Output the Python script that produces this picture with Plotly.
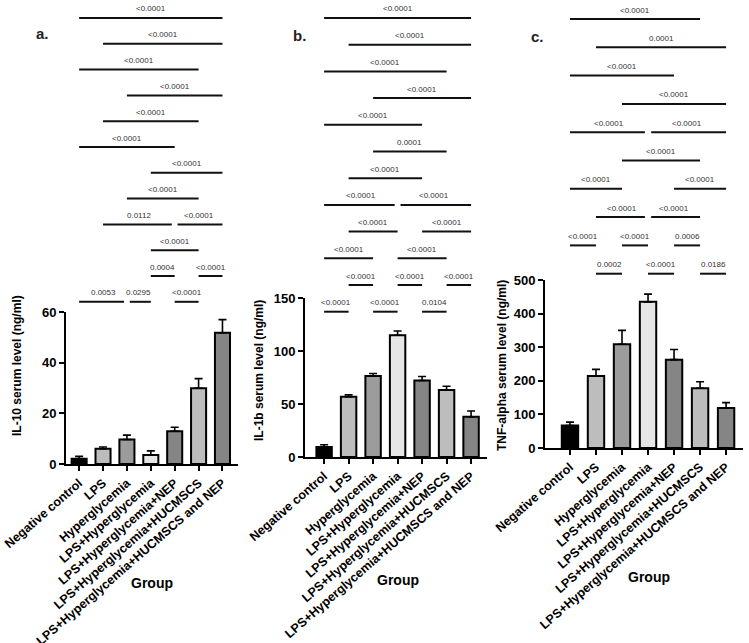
import plotly.graph_objects as go

W, H = 749, 643

groups = ["Negative control", "LPS", "Hyperglycemia", "LPS+Hyperglycemia",
          "LPS+Hyperglycemia+NEP", "LPS+Hyperglycemia+HUCMSCS",
          "LPS+Hyperglycemia+HUCMSCS and NEP"]

il10_mean = [2.1, 6.0, 9.7, 3.6, 12.9, 29.9, 51.8]
il10_err = [0.9, 0.7, 1.7, 1.6, 1.6, 3.8, 5.2]

il1b_mean = [9.5, 56.8, 76.5, 114.8, 72.2, 63.3, 38.0]
il1b_err = [2.0, 1.8, 2.3, 4.0, 3.8, 3.4, 5.4]

tnf_mean = [67, 214, 309, 435, 263, 178, 119]
tnf_err = [10, 20, 41, 23, 30, 19, 16]

bar_colors = ["#000000", "#bdbdbd", "#9c9c9c", "#e6e6e6", "#858585", "#bdbdbd", "#858585"]

# comparisons: (group i, group j, p-value text), listed row by row from the top
comp_a = [
    [(0, 6, "<0.0001")],
    [(1, 6, "<0.0001")],
    [(0, 5, "<0.0001")],
    [(2, 6, "<0.0001")],
    [(1, 5, "<0.0001")],
    [(0, 4, "<0.0001")],
    [(3, 6, "<0.0001")],
    [(2, 5, "<0.0001")],
    [(1, 4, "0.0112"), (4, 6, "<0.0001")],
    [(3, 5, "<0.0001")],
    [(3, 4, "0.0004"), (5, 6, "<0.0001")],
    [(0, 2, "0.0053"), (2, 3, "0.0295"), (4, 5, "<0.0001")],
]
comp_b = [
    [(0, 6, "<0.0001")],
    [(1, 6, "<0.0001")],
    [(0, 5, "<0.0001")],
    [(2, 6, "<0.0001")],
    [(0, 4, "<0.0001")],
    [(2, 5, "0.0001")],
    [(1, 4, "<0.0001")],
    [(0, 3, "<0.0001"), (3, 6, "<0.0001")],
    [(1, 3, "<0.0001"), (4, 6, "<0.0001")],
    [(0, 2, "<0.0001"), (3, 5, "<0.0001")],
    [(1, 2, "<0.0001"), (3, 4, "<0.0001"), (5, 6, "<0.0001")],
    [(0, 1, "<0.0001"), (2, 3, "<0.0001"), (4, 5, "0.0104")],
]
comp_c = [
    [(0, 5, "<0.0001")],
    [(1, 6, "0.0001")],
    [(0, 4, "<0.0001")],
    [(2, 6, "<0.0001")],
    [(0, 3, "<0.0001"), (3, 6, "<0.0001")],
    [(2, 5, "<0.0001")],
    [(0, 2, "<0.0001"), (4, 6, "<0.0001")],
    [(1, 3, "<0.0001"), (3, 5, "<0.0001")],
    [(0, 1, "<0.0001"), (2, 3, "<0.0001"), (4, 5, "0.0006")],
    [(1, 2, "0.0002"), (3, 4, "<0.0001"), (5, 6, "0.0186")],
]

FONT = "Liberation Sans, Arial, sans-serif"

panels = [
    dict(mean=il10_mean, err=il10_err, comps=comp_a, letter="a.", ytitle="IL-10 serum level (ng/ml)",
         xpx=(66, 238), ypx=(464, 312), xr=[-0.55, 6.65], yr=[0, 60], dtick=20,
         row_top=18, row_step=25.8, letter_pos=(42, 34), ytitle_pos=(17, 366), group_pos=(152, 583)),
    dict(mean=il1b_mean, err=il1b_err, comps=comp_b, letter="b.", ytitle="IL-1b serum level (ng/ml)",
         xpx=(305, 487), ypx=(457, 298), xr=[-0.78, 6.65], yr=[0, 150], dtick=50,
         row_top=18, row_step=26.7, letter_pos=(299, 35), ytitle_pos=(259, 371), group_pos=(398, 580)),
    dict(mean=tnf_mean, err=tnf_err, comps=comp_c, letter="c.", ytitle="TNF-alpha serum level (ng/ml)",
         xpx=(545, 743), ypx=(448, 280), xr=[-0.96, 6.65], yr=[0, 500], dtick=100,
         row_top=19, row_step=28.3, letter_pos=(537, 36), ytitle_pos=(502, 366), group_pos=(649, 577)),
]

fig = go.Figure()
shapes, annotations = [], []


def paper_text(xpx, ypx, text, size, angle=0, color="black"):
    return dict(x=xpx / W, y=1 - ypx / H, xref="paper", yref="paper", text=text,
                showarrow=False, xanchor="center", yanchor="middle", textangle=angle,
                font=dict(family=FONT, size=size, color=color))


for k, p in enumerate(panels):
    sfx = "" if k == 0 else str(k + 1)
    xa, ya = "x" + sfx, "y" + sfx
    fig.add_trace(go.Bar(
        x=groups, y=p["mean"], xaxis=xa, yaxis=ya, width=0.63,
        marker=dict(color=bar_colors, line=dict(color="black", width=2)),
        error_y=dict(type="data", symmetric=False, array=p["err"], arrayminus=[0] * 7,
                     color="black", thickness=1.6, width=4),
        showlegend=False, hoverinfo="skip"))
    axis_common = dict(showline=True, linecolor="black", linewidth=2, ticks="outside",
                       ticklen=5, tickwidth=2, tickcolor="black", showgrid=False, zeroline=False,
                       fixedrange=True, automargin=False)
    fig.layout["xaxis" + sfx] = dict(
        domain=[p["xpx"][0] / W, p["xpx"][1] / W], anchor=ya, range=p["xr"],
        type="category", tickangle=-41,
        tickfont=dict(family=FONT, size=12.5, color="black", weight="bold"), **axis_common)
    fig.layout["yaxis" + sfx] = dict(
        domain=[1 - p["ypx"][0] / H, 1 - p["ypx"][1] / H], anchor=xa, range=p["yr"],
        tick0=0, dtick=p["dtick"],
        tickfont=dict(family=FONT, size=13, color="black", weight="bold"), **axis_common)

    # significance brackets
    for r, row in enumerate(p["comps"]):
        ypx = p["row_top"] + r * p["row_step"]
        yp = 1 - ypx / H
        ends = [e for (i, j, _) in row for e in (i, j)]
        for (i, j, txt) in row:
            x0 = i + (0.12 if ends.count(i) > 1 else 0)
            x1 = j - (0.12 if ends.count(j) > 1 else 0)
            shapes.append(dict(type="line", xref=xa, yref="paper", x0=x0, x1=x1, y0=yp, y1=yp,
                               line=dict(color="#111111", width=2)))
            annotations.append(dict(x=(i + j) / 2, y=1 - (ypx - 9) / H, xref=xa, yref="paper",
                                    text=txt, showarrow=False, xanchor="center", yanchor="middle",
                                    font=dict(family=FONT, size=8, color="#333333")))

    annotations.append(paper_text(*p["letter_pos"], "<b>" + p["letter"] + "</b>", 15, color="#222222"))
    annotations.append(paper_text(*p["ytitle_pos"], "<b>" + p["ytitle"] + "</b>", 12, angle=-90))
    annotations.append(paper_text(*p["group_pos"], "<b>Group</b>", 14))

fig.update_layout(template="none", width=W, height=H, margin=dict(l=0, r=0, t=0, b=0),
                  paper_bgcolor="white", plot_bgcolor="white", bargap=0.3,
                  shapes=shapes, annotations=annotations, showlegend=False)

fig.write_html("out.html")
